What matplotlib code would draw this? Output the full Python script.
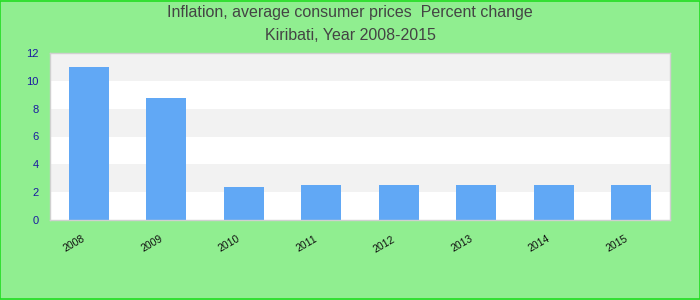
import matplotlib
matplotlib.use("Agg")
import matplotlib.pyplot as plt
from matplotlib.patches import Rectangle
from matplotlib.transforms import ScaledTranslation

years = ["2008", "2009", "2010", "2011", "2012", "2013", "2014", "2015"]
values = [11.0, 8.8, 2.4, 2.5, 2.5, 2.5, 2.5, 2.5]
yticks = [0, 2, 4, 6, 8, 10, 12]
title_lines = ["Inflation, average consumer prices  Percent change", "Kiribati, Year 2008-2015"]

plt.rcParams['font.family'] = ['Liberation Sans', 'DejaVu Sans']

fig = plt.figure(figsize=(7, 3), dpi=100)
fig.patch.set_facecolor('#90EE90')
fig.patches.append(Rectangle((0.0007, 0.0017), 0.9986, 0.9966, transform=fig.transFigure,
                             fill=False, edgecolor='#22DD22', linewidth=1.2))

ax = fig.add_axes([50/700, 80/300, 620/700, 167/300])
ax.set_facecolor('white')
for i in range(0, len(yticks) - 1):
    if i % 2 == 1:
        ax.axhspan(yticks[i], yticks[i + 1], color='#F2F2F2', zorder=0, linewidth=0)

x = list(range(len(years)))
ax.bar(x, values, width=0.52, color='#61A8F5', zorder=2)
ax.set_xlim(-0.5, len(years) - 0.5)
ax.set_ylim(0, 12)
ax.set_yticks(yticks)
ax.set_yticklabels([str(t) for t in yticks], color='#1A1AA0', fontsize=8)
ax.set_xticks(x)
ax.set_xticklabels(years, rotation=30, fontsize=7.5, color='#111111', ha='right', rotation_mode='anchor')
ax.tick_params(axis='both', length=0)
ax.tick_params(axis='y', pad=8)
ax.tick_params(axis='x', pad=10)
offset = ScaledTranslation(-7/100, 0, fig.dpi_scale_trans)
for lbl in ax.get_xticklabels():
    lbl.set_transform(lbl.get_transform() + offset)
for s in ax.spines.values():
    s.set_color('#D0D0D0')
    s.set_linewidth(1)

fig.text(0.5, 1 - 13/300, title_lines[0], ha='center', va='center', fontsize=11.5, color='#444444')
fig.text(0.5, 1 - 35/300, title_lines[1], ha='center', va='center', fontsize=11.5, color='#444444')

fig.savefig('out.png', dpi=100, facecolor=fig.get_facecolor())
